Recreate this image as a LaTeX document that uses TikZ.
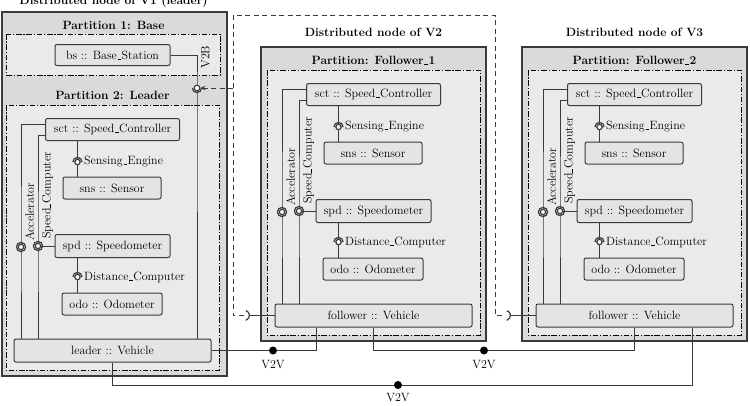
\documentclass[tikz,border=0pt]{standalone}
\usetikzlibrary{arrows.meta}
\definecolor{outerfill}{HTML}{DADADA}
\definecolor{partfill}{HTML}{EAEAEA}
\definecolor{compfill}{HTML}{E4E4E4}
\definecolor{edgecol}{HTML}{3A3A3A}
\newcommand{\usc}{\leavevmode\kern.06em\vbox{\hrule width.32em height .55pt}\kern.02em}
\tikzset{
 outerbox/.style={draw=edgecol, line width=1.2pt, fill=outerfill},
 partbox/.style={draw=black, line width=0.8pt, fill=partfill, dash pattern=on 5.5pt off 1.8pt on 1.2pt off 1.8pt},
 comp/.style={draw=edgecol, line width=1pt, fill=compfill, rounded corners=2pt, minimum height=22pt, inner sep=1pt},
 wire/.style={draw=edgecol, line width=1pt},
 sockline/.style={draw=edgecol, line width=1.2pt},
 dashline/.style={draw=edgecol, line width=1pt, dash pattern=on 5pt off 3.5pt},
 ttl/.style={font=\fontsize{12}{14}\selectfont\bfseries, inner sep=0pt},
 lbl/.style={inner sep=1pt},
 dotnode/.style={circle, fill=black, inner sep=0pt, minimum size=8pt},
 ringnode/.style={circle, draw=edgecol, line width=1.1pt, fill=white, inner sep=0pt, minimum size=5.6pt},
 sockT/.pic={\draw[sockline] (4.6pt,0pt) arc[start angle=0, end angle=180, radius=4.6pt];
   \filldraw[sockline, fill=white] (0pt,0pt) circle[radius=2.7pt];},
 sockTB/.pic={\draw[sockline] (4.6pt,0pt) arc[start angle=0, end angle=180, radius=4.6pt];
   \draw[sockline] (-4.6pt,0pt) arc[start angle=180, end angle=360, radius=4.6pt];
   \filldraw[sockline, fill=white] (0pt,0pt) circle[radius=2.7pt];},
 sockB/.pic={\draw[sockline] (-4.6pt,0pt) arc[start angle=180, end angle=360, radius=4.6pt];},
 cupR/.pic={\draw[sockline] (-75:5pt) arc[start angle=-75, end angle=75, radius=5pt];}
}
% #1 prefix, #2 shift, #3 partition title, #4 vehicle instance
\newcommand{\vehparts}[4]{%
\begin{scope}[shift={#2}]
 \path[partbox] (267,70) rectangle (480,335);
 \node[ttl] (#1ptitle) at (373.5,60) {#3};
 \node[comp, minimum width=134pt] (#1sct) at (373.5,94.5) {sct :: Speed\usc Controller};
 \node[comp, minimum width=98pt] (#1sns) at (373,153) {sns :: Sensor};
 \node[comp, minimum width=115pt, minimum height=23pt] (#1spd) at (373.5,211) {spd :: Speedometer};
 \node[comp, minimum width=100pt] (#1odo) at (373,269) {odo :: Odometer};
 \node[comp, minimum width=197pt, minimum height=23pt] (#1veh) at (373.5,315.5) {#4 :: Vehicle};
 \coordinate (#1acc) at (282,212);
 \coordinate (#1scs) at (299,211);
 \coordinate (#1sen) at (338.5,127);
 \coordinate (#1dis) at (338.5,242);
 \draw[wire] ([yshift=5.5pt]#1sct.west) -| (#1acc) -- (#1acc |- #1veh.north);
 \draw[wire] ([yshift=-5.5pt]#1sct.west) -| (#1scs) -- (#1scs |- #1veh.north);
 \draw[wire] (#1scs) -- (#1spd.west);
 \draw[wire] (#1sen |- #1sct.south) -- (#1sen |- #1sns.north);
 \draw[wire] (#1dis |- #1spd.south) -- (#1dis |- #1odo.north);
 \pic at (#1sen) {sockT};
 \pic at (#1dis) {sockT};
 \pic at (#1acc) {sockTB};
 \pic at (#1scs) {sockTB};
 \node[lbl, anchor=west] (#1senl) at ([xshift=5.5pt]#1sen) {Sensing\usc Engine};
 \node[lbl, anchor=west] (#1disl) at ([xshift=5.5pt]#1dis) {Distance\usc Computer};
 \node[lbl, rotate=90, anchor=north west] (#1accl) at ([xshift=3pt,yshift=5pt]#1acc) {Accelerator};
 \node[lbl, rotate=90, anchor=north west] (#1scsl) at ([xshift=3pt,yshift=6pt]#1scs) {Speed\usc Computer};
\end{scope}}

\begin{document}
\begin{tikzpicture}[x=1pt, y=-1pt, font=\fontsize{12}{14}\selectfont]
\useasboundingbox (0,0) rectangle (750,405);
% outer boxes
\path[outerbox] (2,12) rectangle (227,376);
\path[outerbox] (261,47) rectangle (486,341);
\path[outerbox] (522,47) rectangle (747,341);
% titles
\node[ttl, anchor=base] (tV1) at (113.5,4) {Distributed node of V1 (leader)};
\node[ttl] (tV2) at (373.5,32) {Distributed node of V2};
\node[ttl] (tV3) at (634.5,32) {Distributed node of V3};
% leader: partition 1
\path[partbox] (6,34) rectangle (220,75);
\node[ttl] (p1title) at (113.5,25) {Partition 1: Base};
\node[comp, minimum width=115pt, minimum height=21pt] (bs) at (112.5,55) {bs :: Base\usc Station};
% vehicles
\vehparts{L}{(-261,35)}{Partition 2: Leader}{leader}
\vehparts{F}{(0,0)}{Partition: Follower\usc 1}{follower}
\vehparts{G}{(261,0)}{Partition: Follower\usc 2}{follower}
% V2B
\coordinate (v2bc) at (197,88);
\draw[wire] (bs.east) -| (v2bc) -- (v2bc |- Lveh.north);
\pic at (v2bc) {sockB};
\node[ringnode] (v2bs) at (v2bc) {};
\node[lbl, rotate=90, anchor=north west] (v2bl) at (200,70) {V2B};
% distributed dashed links
\coordinate (dtl) at (233,15);
\coordinate (dtr) at (495,15);
\coordinate (Frq) at ([xshift=-30pt]Fveh.west);
\coordinate (Grq) at ([xshift=-30pt]Gveh.west);
\draw[dashline] ([xshift=-1pt]Frq) -| (dtl) -- (dtr) |- ([xshift=-1pt]Grq);
\draw[dashline, -{Stealth[length=5pt,width=4.5pt]}] (dtl |- v2bs) -- (v2bs);
\draw[wire] ([xshift=5pt]Frq) -- (Fveh.west);
\draw[wire] ([xshift=5pt]Grq) -- (Gveh.west);
\pic at (Frq) {cupR};
\pic at (Grq) {cupR};
% V2V links
\node[dotnode] (v2va) at (273,350.5) {};
\node[dotnode] (v2vb) at (484,350.5) {};
\node[dotnode] (v2vc) at (398,385) {};
\draw[wire] (Lveh.east) -- (v2va) -| ([xshift=-57.5pt]Fveh.south);
\draw[wire] (Fveh.south) |- (v2vb) -| (Gveh.south);
\draw[wire] (Lveh.south) |- (v2vc) -| ([xshift=57.5pt]Gveh.south);
\node[lbl] (v2val) at ([yshift=-14.5pt]v2va) {V2V};
\node[lbl] (v2vbl) at ([yshift=-14.5pt]v2vb) {V2V};
\node[lbl] (v2vcl) at ([yshift=-13pt]v2vc) {V2V};
\end{tikzpicture}
\end{document}
